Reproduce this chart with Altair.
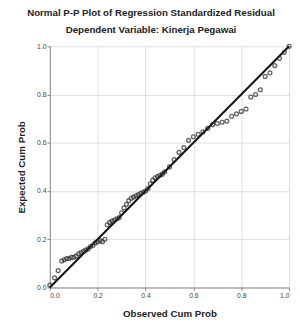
import altair as alt
import pandas as pd

obs = [0.00,0.02,0.035,0.05,0.06,0.07,0.08,0.09,0.10,0.11,0.12,0.13,0.14,0.15,0.16,0.17,0.18,0.19,0.20,0.21,
       0.22,0.23,0.24,0.25,0.26,0.27,0.28,0.29,0.30,0.31,0.32,0.33,0.34,0.35,0.36,0.37,0.38,0.39,0.40,0.41,
       0.42,0.43,0.44,0.45,0.46,0.47,0.48,0.50,0.52,0.54,0.56,0.58,0.60,0.62,0.64,0.66,0.68,0.70,0.72,0.74,
       0.76,0.78,0.80,0.82,0.84,0.86,0.88,0.90,0.92,0.94,0.96,0.98,1.00]
exp = [0.01,0.04,0.07,0.11,0.115,0.12,0.12,0.125,0.125,0.13,0.14,0.145,0.15,0.155,0.16,0.17,0.175,0.185,0.19,0.195,
       0.19,0.20,0.26,0.27,0.275,0.28,0.285,0.29,0.31,0.33,0.345,0.36,0.37,0.375,0.38,0.385,0.39,0.395,0.40,0.41,
       0.43,0.445,0.455,0.46,0.465,0.47,0.48,0.50,0.53,0.56,0.58,0.61,0.625,0.635,0.645,0.66,0.675,0.68,0.685,0.69,
       0.71,0.72,0.73,0.74,0.79,0.80,0.82,0.875,0.89,0.92,0.95,0.975,1.00]
line_x = [0.0, 1.0]
line_y = [0.0, 1.0]
ticks = [0.0, 0.2, 0.4, 0.6, 0.8, 1.0]

pts = pd.DataFrame({"obs": obs, "exp": exp})
ref = pd.DataFrame({"obs": line_x, "exp": line_y})

FONT = "Liberation Sans"

xenc = alt.X("obs:Q", scale=alt.Scale(domain=[0, 1], nice=False),
             axis=alt.Axis(title="Observed Cum Prob", values=ticks, format=".1f",
                           labelFontSize=7, labelColor="#444", tickSize=3, labelPadding=1,
                           titleFontSize=10, titleFontWeight="bold", titlePadding=11,
                           titleColor="#222", domainColor="#888", tickColor="#888",
                           gridColor="#ddd"))
yenc = alt.Y("exp:Q", scale=alt.Scale(domain=[0, 1], nice=False),
             axis=alt.Axis(title="Expected Cum Prob", values=ticks, format=".1f",
                           labelFontSize=7, labelColor="#444", tickSize=3, labelPadding=1,
                           titleFontSize=10, titleFontWeight="bold", titlePadding=10,
                           titleColor="#222", domainColor="#888", tickColor="#888",
                           gridColor="#ddd"))

points = alt.Chart(pts).mark_point(shape="circle", filled=False, size=16, strokeWidth=1.3,
                                   color="#222").encode(x=xenc, y=yenc)
line = alt.Chart(ref).mark_line(color="#111", strokeWidth=2).encode(x="obs:Q", y="exp:Q")

chart = alt.layer(line, points).properties(
    width=246, height=248,
    autosize=alt.AutoSizeParams(type="none"),
    padding={"left": 43, "top": 35, "right": 3, "bottom": 28},
    title=alt.TitleParams(
        text="Normal P-P Plot of Regression Standardized Residual",
        subtitle="Dependent Variable: Kinerja Pegawai",
        fontSize=10, subtitleFontSize=10, fontWeight="bold", subtitleFontWeight="bold",
        font=FONT, subtitleFont=FONT, color="#222", subtitleColor="#222",
        anchor="middle", dx=-19, offset=7, subtitlePadding=8),
).configure(font=FONT).configure_view(stroke=None)

chart.save("out.html", embed_options={"renderer": "svg", "actions": False})
